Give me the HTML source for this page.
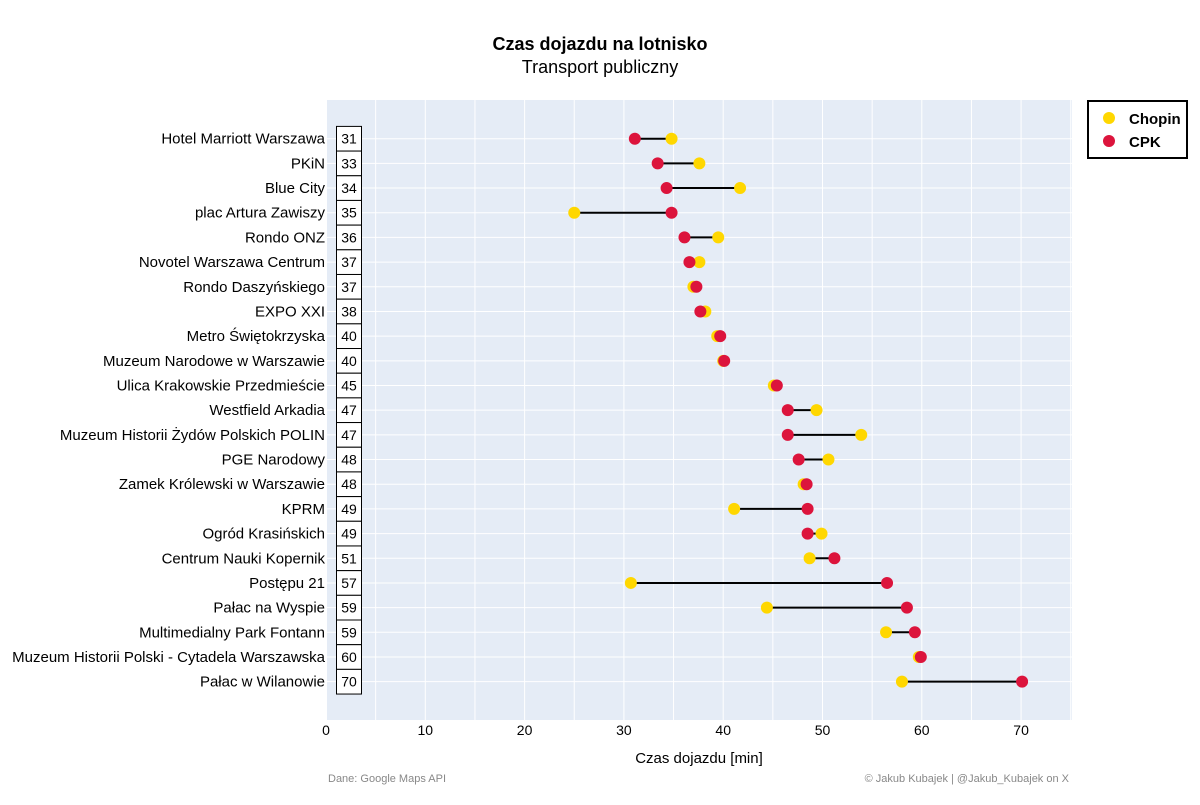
<!DOCTYPE html>
<html><head><meta charset="utf-8"><style>
body{margin:0;background:#fff;font-family:"Liberation Sans",sans-serif}
</style></head><body>
<svg width="1200" height="800" xmlns="http://www.w3.org/2000/svg" font-family="Liberation Sans, sans-serif">
<text x="600" y="50" text-anchor="middle" font-size="18" font-weight="bold">Czas dojazdu na lotnisko</text>
<text x="600" y="73" text-anchor="middle" font-size="18">Transport publiczny</text>
<rect x="327" y="100" width="745" height="620" fill="#e5ecf6"/>
<g id="grid"></g><g id="marks"></g><g id="labels"></g>
<text x="699" y="763" text-anchor="middle" font-size="15">Czas dojazdu [min]</text>
<text x="328" y="782" font-size="11" fill="#888">Dane: Google Maps API</text>
<text x="1069" y="782" text-anchor="end" font-size="11" fill="#888">© Jakub Kubajek | @Jakub_Kubajek on X</text>
<g>
<rect x="1088" y="101" width="99" height="57" fill="#fff" stroke="#000" stroke-width="2"/>
<g><circle cx="1109" cy="118" r="6" fill="#FFD700"/><text x="1129" y="124" font-size="15" font-weight="bold">Chopin</text></g>
<g><circle cx="1109" cy="141" r="6" fill="#DC143C"/><text x="1129" y="147" font-size="15" font-weight="bold">CPK</text></g>
</g>
</svg>
<script>
const categories=["Hotel Marriott Warszawa","PKiN","Blue City","plac Artura Zawiszy","Rondo ONZ","Novotel Warszawa Centrum","Rondo Daszyńskiego","EXPO XXI","Metro Świętokrzyska","Muzeum Narodowe w Warszawie","Ulica Krakowskie Przedmieście","Westfield Arkadia","Muzeum Historii Żydów Polskich POLIN","PGE Narodowy","Zamek Królewski w Warszawie","KPRM","Ogród Krasińskich","Centrum Nauki Kopernik","Postępu 21","Pałac na Wyspie","Multimedialny Park Fontann","Muzeum Historii Polski - Cytadela Warszawska","Pałac w Wilanowie"];
const rankLabels=["31","33","34","35","36","37","37","38","40","40","45","47","47","48","48","49","49","51","57","59","59","60","70"];
const chopin=[34.8,37.6,41.7,25.0,39.5,37.6,37.0,38.2,39.4,40.0,45.1,49.4,53.9,50.6,48.1,41.1,49.9,48.7,30.7,44.4,56.4,59.7,58.0];
const cpk=[31.1,33.4,34.3,34.8,36.1,36.6,37.3,37.7,39.7,40.1,45.4,46.5,46.5,47.6,48.4,48.5,48.5,51.2,56.5,58.5,59.3,59.9,70.1];
const xTicks=[0,10,20,30,40,50,60,70];
const NS="http://www.w3.org/2000/svg";
const x=v=>326+v*9.93;
const y=i=>138.7+i*24.68;
function mk(t,a,p){const e=document.createElementNS(NS,t);for(const k in a)e.setAttribute(k,a[k]);p.appendChild(e);return e;}
const grid=document.getElementById('grid'),marks=document.getElementById('marks'),labels=document.getElementById('labels');
for(let v=5;v<=75;v+=5){const l=mk('line',{x1:x(v),x2:x(v),y1:100,y2:720,stroke:'#fff','stroke-width':1},grid);

}
categories.forEach((c,i)=>{const l=mk('line',{x1:327,x2:1072,y1:y(i),y2:y(i),stroke:'#fff','stroke-width':1},grid);

});
xTicks.forEach(v=>{const t=mk('text',{x:x(v),y:735,'text-anchor':'middle','font-size':14},labels);t.textContent=v;

});
categories.forEach((c,i)=>{
const t=mk('text',{x:325,y:y(i)+5,'text-anchor':'end','font-size':15},labels);t.textContent=c;


const r=mk('rect',{x:336.5,y:y(i)-12.3,width:25,height:24.68,fill:'#fff',stroke:'#000','stroke-width':1},labels);


const n=mk('text',{x:349,y:y(i)+5,'text-anchor':'middle','font-size':14},labels);n.textContent=rankLabels[i];


const ln=mk('line',{x1:x(chopin[i]),x2:x(cpk[i]),y1:y(i),y2:y(i),stroke:'#000','stroke-width':2},marks);


const a=mk('circle',{cx:x(chopin[i]),cy:y(i),r:6,fill:'#FFD700'},marks);


const b=mk('circle',{cx:x(cpk[i]),cy:y(i),r:6,fill:'#DC143C'},marks);


});
</script>
</body></html>
